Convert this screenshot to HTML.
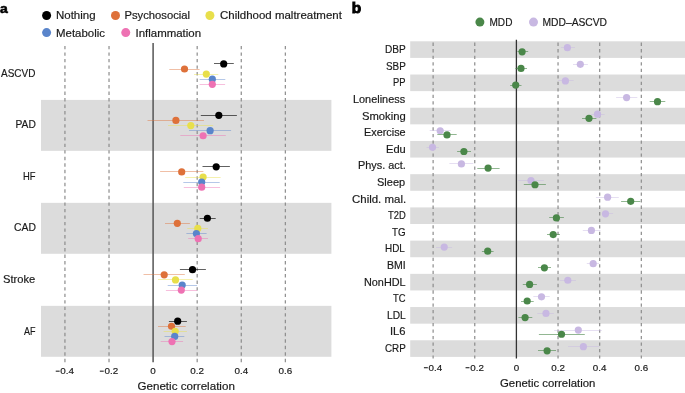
<!DOCTYPE html>
<html><head><meta charset="utf-8"><style>
html,body{margin:0;padding:0;background:#fff;width:685px;height:393px;overflow:hidden}
svg{display:block;will-change:transform}
text{font-family:"Liberation Sans", sans-serif}
</style></head><body>
<svg width="685" height="393" viewBox="0 0 685 393">
<rect width="685" height="393" fill="#fff"/>
<rect x="41.0" y="99.9" width="290.40" height="50.95" fill="#dcdcdc"/>
<rect x="41.0" y="202.85" width="290.40" height="50.95" fill="#dcdcdc"/>
<rect x="41.0" y="305.85" width="290.40" height="50.95" fill="#dcdcdc"/>
<line x1="64.94" y1="42.9" x2="64.94" y2="362.3" stroke="#8c8c8c" stroke-width="1.2" stroke-dasharray="3.4 3.12" stroke-dashoffset="-3.00"/>
<line x1="109.02" y1="42.9" x2="109.02" y2="362.3" stroke="#8c8c8c" stroke-width="1.2" stroke-dasharray="3.4 3.12" stroke-dashoffset="-3.00"/>
<line x1="197.18" y1="42.9" x2="197.18" y2="362.3" stroke="#8c8c8c" stroke-width="1.2" stroke-dasharray="3.4 3.12" stroke-dashoffset="-3.00"/>
<line x1="241.26" y1="42.9" x2="241.26" y2="362.3" stroke="#8c8c8c" stroke-width="1.2" stroke-dasharray="3.4 3.12" stroke-dashoffset="-3.00"/>
<line x1="285.34" y1="42.9" x2="285.34" y2="362.3" stroke="#8c8c8c" stroke-width="1.2" stroke-dasharray="3.4 3.12" stroke-dashoffset="-3.00"/>
<line x1="153.1" y1="42.9" x2="153.1" y2="362.3" stroke="#555" stroke-width="1.5"/>
<line x1="214" y1="63.50" x2="233.8" y2="63.50" stroke="#000000" stroke-opacity="0.62" stroke-width="1"/>
<circle cx="223.7" cy="63.90" r="3.6" fill="#000000"/>
<line x1="169.3" y1="69.50" x2="199.6" y2="69.50" stroke="#de713a" stroke-opacity="0.45" stroke-width="1"/>
<circle cx="184.5" cy="69.00" r="3.6" fill="#de713a"/>
<line x1="194" y1="74.50" x2="218.3" y2="74.50" stroke="#e8df4b" stroke-opacity="0.45" stroke-width="1"/>
<circle cx="206.3" cy="74.10" r="3.6" fill="#e8df4b"/>
<line x1="199.6" y1="79.50" x2="225.3" y2="79.50" stroke="#5a85cb" stroke-opacity="0.45" stroke-width="1"/>
<circle cx="212.3" cy="79.20" r="3.6" fill="#5a85cb"/>
<line x1="199.6" y1="84.50" x2="225.1" y2="84.50" stroke="#ee72b3" stroke-opacity="0.45" stroke-width="1"/>
<circle cx="212.3" cy="84.30" r="3.6" fill="#ee72b3"/>
<line x1="200.8" y1="115.50" x2="236.9" y2="115.50" stroke="#000000" stroke-opacity="0.62" stroke-width="1"/>
<circle cx="218.8" cy="115.35" r="3.6" fill="#000000"/>
<line x1="147.5" y1="120.50" x2="204" y2="120.50" stroke="#de713a" stroke-opacity="0.45" stroke-width="1"/>
<circle cx="175.9" cy="120.45" r="3.6" fill="#de713a"/>
<line x1="168" y1="125.50" x2="213.2" y2="125.50" stroke="#e8df4b" stroke-opacity="0.45" stroke-width="1"/>
<circle cx="190.8" cy="125.55" r="3.6" fill="#e8df4b"/>
<line x1="189" y1="130.50" x2="231.1" y2="130.50" stroke="#5a85cb" stroke-opacity="0.45" stroke-width="1"/>
<circle cx="210.1" cy="130.65" r="3.6" fill="#5a85cb"/>
<line x1="180.3" y1="135.50" x2="225.8" y2="135.50" stroke="#ee72b3" stroke-opacity="0.45" stroke-width="1"/>
<circle cx="203.1" cy="135.75" r="3.6" fill="#ee72b3"/>
<line x1="202.5" y1="166.50" x2="229.9" y2="166.50" stroke="#000000" stroke-opacity="0.62" stroke-width="1"/>
<circle cx="216.2" cy="166.80" r="3.6" fill="#000000"/>
<line x1="160.1" y1="171.50" x2="203.4" y2="171.50" stroke="#de713a" stroke-opacity="0.45" stroke-width="1"/>
<circle cx="181.7" cy="171.90" r="3.6" fill="#de713a"/>
<line x1="185.2" y1="177.50" x2="220.6" y2="177.50" stroke="#e8df4b" stroke-opacity="0.45" stroke-width="1"/>
<circle cx="203.1" cy="177.00" r="3.6" fill="#e8df4b"/>
<line x1="183.3" y1="182.50" x2="219.7" y2="182.50" stroke="#5a85cb" stroke-opacity="0.45" stroke-width="1"/>
<circle cx="201.7" cy="182.10" r="3.6" fill="#5a85cb"/>
<line x1="183.8" y1="187.50" x2="220.1" y2="187.50" stroke="#ee72b3" stroke-opacity="0.45" stroke-width="1"/>
<circle cx="201.7" cy="187.20" r="3.6" fill="#ee72b3"/>
<line x1="199.6" y1="218.50" x2="215.7" y2="218.50" stroke="#000000" stroke-opacity="0.62" stroke-width="1"/>
<circle cx="207.4" cy="218.25" r="3.6" fill="#000000"/>
<line x1="165" y1="223.50" x2="189.9" y2="223.50" stroke="#de713a" stroke-opacity="0.45" stroke-width="1"/>
<circle cx="177.3" cy="223.35" r="3.6" fill="#de713a"/>
<line x1="187.3" y1="228.50" x2="208" y2="228.50" stroke="#e8df4b" stroke-opacity="0.45" stroke-width="1"/>
<circle cx="197.8" cy="228.45" r="3.6" fill="#e8df4b"/>
<line x1="186.4" y1="233.50" x2="206.6" y2="233.50" stroke="#5a85cb" stroke-opacity="0.45" stroke-width="1"/>
<circle cx="196.4" cy="233.55" r="3.6" fill="#5a85cb"/>
<line x1="188.2" y1="238.50" x2="208" y2="238.50" stroke="#ee72b3" stroke-opacity="0.45" stroke-width="1"/>
<circle cx="198.2" cy="238.65" r="3.6" fill="#ee72b3"/>
<line x1="179.9" y1="269.50" x2="205.9" y2="269.50" stroke="#000000" stroke-opacity="0.62" stroke-width="1"/>
<circle cx="192.5" cy="269.70" r="3.6" fill="#000000"/>
<line x1="143.5" y1="274.50" x2="184.8" y2="274.50" stroke="#de713a" stroke-opacity="0.45" stroke-width="1"/>
<circle cx="164.2" cy="274.80" r="3.6" fill="#de713a"/>
<line x1="158" y1="279.50" x2="192.7" y2="279.50" stroke="#e8df4b" stroke-opacity="0.45" stroke-width="1"/>
<circle cx="175.5" cy="279.90" r="3.6" fill="#e8df4b"/>
<line x1="167.7" y1="285.50" x2="197.1" y2="285.50" stroke="#5a85cb" stroke-opacity="0.45" stroke-width="1"/>
<circle cx="182.2" cy="285.00" r="3.6" fill="#5a85cb"/>
<line x1="165.9" y1="290.50" x2="197.1" y2="290.50" stroke="#ee72b3" stroke-opacity="0.45" stroke-width="1"/>
<circle cx="181.3" cy="290.10" r="3.6" fill="#ee72b3"/>
<line x1="168.9" y1="321.50" x2="186.9" y2="321.50" stroke="#000000" stroke-opacity="0.62" stroke-width="1"/>
<circle cx="177.7" cy="321.15" r="3.6" fill="#000000"/>
<line x1="158" y1="326.50" x2="185.7" y2="326.50" stroke="#de713a" stroke-opacity="0.45" stroke-width="1"/>
<circle cx="171.5" cy="326.25" r="3.6" fill="#de713a"/>
<line x1="163.6" y1="331.50" x2="186.9" y2="331.50" stroke="#e8df4b" stroke-opacity="0.45" stroke-width="1"/>
<circle cx="175.2" cy="331.35" r="3.6" fill="#e8df4b"/>
<line x1="164.5" y1="336.50" x2="184.3" y2="336.50" stroke="#5a85cb" stroke-opacity="0.45" stroke-width="1"/>
<circle cx="174.7" cy="336.45" r="3.6" fill="#5a85cb"/>
<line x1="160.7" y1="341.50" x2="183.1" y2="341.50" stroke="#ee72b3" stroke-opacity="0.45" stroke-width="1"/>
<circle cx="172" cy="341.55" r="3.6" fill="#ee72b3"/>
<rect x="55.74" y="370.65" width="3.9" height="1.05" fill="#1a1a1a"/>
<text x="67.24" y="373.8" font-size="9.9" text-anchor="middle" font-weight="normal" fill="#1a1a1a" stroke="#1a1a1a" stroke-width="0.18">0.4</text>
<rect x="99.82" y="370.65" width="3.9" height="1.05" fill="#1a1a1a"/>
<text x="111.32" y="373.8" font-size="9.9" text-anchor="middle" font-weight="normal" fill="#1a1a1a" stroke="#1a1a1a" stroke-width="0.18">0.2</text>
<text x="153.10" y="373.8" font-size="9.9" text-anchor="middle" font-weight="normal" fill="#1a1a1a" stroke="#1a1a1a" stroke-width="0.18">0</text>
<text x="197.18" y="373.8" font-size="9.9" text-anchor="middle" font-weight="normal" fill="#1a1a1a" stroke="#1a1a1a" stroke-width="0.18">0.2</text>
<text x="241.26" y="373.8" font-size="9.9" text-anchor="middle" font-weight="normal" fill="#1a1a1a" stroke="#1a1a1a" stroke-width="0.18">0.4</text>
<text x="285.34" y="373.8" font-size="9.9" text-anchor="middle" font-weight="normal" fill="#1a1a1a" stroke="#1a1a1a" stroke-width="0.18">0.6</text>
<text transform="translate(0.0,12.6) scale(1.0,0.86)" x="0" y="0" font-size="14" font-weight="bold" fill="#000" stroke="#000" stroke-width="0.6">a</text>
<circle cx="46.6" cy="15.5" r="4.5" fill="#000000"/>
<circle cx="115.5" cy="15.5" r="4.5" fill="#de713a"/>
<circle cx="209.9" cy="15.5" r="4.5" fill="#e8df4b"/>
<circle cx="46.6" cy="32.6" r="4.5" fill="#5a85cb"/>
<circle cx="125.75" cy="32.6" r="4.5" fill="#ee72b3"/>
<rect x="410.2" y="41.30" width="274.80" height="16.61" fill="#dcdcdc"/>
<rect x="410.2" y="74.52" width="274.80" height="16.61" fill="#dcdcdc"/>
<rect x="410.2" y="107.74" width="274.80" height="16.61" fill="#dcdcdc"/>
<rect x="410.2" y="140.96" width="274.80" height="16.61" fill="#dcdcdc"/>
<rect x="410.2" y="174.18" width="274.80" height="16.61" fill="#dcdcdc"/>
<rect x="410.2" y="207.40" width="274.80" height="16.61" fill="#dcdcdc"/>
<rect x="410.2" y="240.62" width="274.80" height="16.61" fill="#dcdcdc"/>
<rect x="410.2" y="273.84" width="274.80" height="16.61" fill="#dcdcdc"/>
<rect x="410.2" y="307.06" width="274.80" height="16.61" fill="#dcdcdc"/>
<rect x="410.2" y="340.28" width="274.80" height="16.61" fill="#dcdcdc"/>
<line x1="433.12" y1="39.7" x2="433.12" y2="358.4" stroke="#8c8c8c" stroke-width="1.2" stroke-dasharray="3.3 3.22" stroke-dashoffset="-2.90"/>
<line x1="474.76" y1="39.7" x2="474.76" y2="358.4" stroke="#8c8c8c" stroke-width="1.2" stroke-dasharray="3.3 3.22" stroke-dashoffset="-2.90"/>
<line x1="558.04" y1="39.7" x2="558.04" y2="358.4" stroke="#8c8c8c" stroke-width="1.2" stroke-dasharray="3.3 3.22" stroke-dashoffset="-2.90"/>
<line x1="599.68" y1="39.7" x2="599.68" y2="358.4" stroke="#8c8c8c" stroke-width="1.2" stroke-dasharray="3.3 3.22" stroke-dashoffset="-2.90"/>
<line x1="641.32" y1="39.7" x2="641.32" y2="358.4" stroke="#8c8c8c" stroke-width="1.2" stroke-dasharray="3.3 3.22" stroke-dashoffset="-2.90"/>
<line x1="516.4" y1="39.7" x2="516.4" y2="358.4" stroke="#333" stroke-width="1.3"/>
<line x1="560.9" y1="47.50" x2="575" y2="47.50" stroke="#c8b8e2" stroke-opacity="0.45" stroke-width="1"/>
<circle cx="567.4" cy="47.70" r="3.6" fill="#c8b8e2"/>
<line x1="517.4" y1="51.50" x2="528.2" y2="51.50" stroke="#4a8749" stroke-opacity="0.6" stroke-width="1"/>
<circle cx="522.1" cy="51.85" r="3.6" fill="#4a8749"/>
<line x1="573" y1="64.50" x2="587.9" y2="64.50" stroke="#c8b8e2" stroke-opacity="0.45" stroke-width="1"/>
<circle cx="580.3" cy="64.31" r="3.6" fill="#c8b8e2"/>
<line x1="515.3" y1="68.50" x2="527" y2="68.50" stroke="#4a8749" stroke-opacity="0.6" stroke-width="1"/>
<circle cx="521" cy="68.47" r="3.6" fill="#4a8749"/>
<line x1="558.2" y1="80.50" x2="573.6" y2="80.50" stroke="#c8b8e2" stroke-opacity="0.45" stroke-width="1"/>
<circle cx="565.4" cy="80.92" r="3.6" fill="#c8b8e2"/>
<line x1="510.2" y1="85.50" x2="521.5" y2="85.50" stroke="#4a8749" stroke-opacity="0.6" stroke-width="1"/>
<circle cx="515.7" cy="85.07" r="3.6" fill="#4a8749"/>
<line x1="616.1" y1="97.50" x2="637.3" y2="97.50" stroke="#c8b8e2" stroke-opacity="0.45" stroke-width="1"/>
<circle cx="626.6" cy="97.53" r="3.6" fill="#c8b8e2"/>
<line x1="649.7" y1="101.50" x2="665.3" y2="101.50" stroke="#4a8749" stroke-opacity="0.6" stroke-width="1"/>
<circle cx="657.5" cy="101.69" r="3.6" fill="#4a8749"/>
<line x1="591" y1="114.50" x2="604.6" y2="114.50" stroke="#c8b8e2" stroke-opacity="0.45" stroke-width="1"/>
<circle cx="597.5" cy="114.14" r="3.6" fill="#c8b8e2"/>
<line x1="582" y1="118.50" x2="596.4" y2="118.50" stroke="#4a8749" stroke-opacity="0.6" stroke-width="1"/>
<circle cx="589" cy="118.30" r="3.6" fill="#4a8749"/>
<line x1="429.7" y1="130.50" x2="450.8" y2="130.50" stroke="#c8b8e2" stroke-opacity="0.45" stroke-width="1"/>
<circle cx="440.2" cy="130.75" r="3.6" fill="#c8b8e2"/>
<line x1="437.3" y1="134.50" x2="456.7" y2="134.50" stroke="#4a8749" stroke-opacity="0.6" stroke-width="1"/>
<circle cx="447" cy="134.90" r="3.6" fill="#4a8749"/>
<line x1="426.5" y1="147.50" x2="438.9" y2="147.50" stroke="#c8b8e2" stroke-opacity="0.45" stroke-width="1"/>
<circle cx="432.5" cy="147.36" r="3.6" fill="#c8b8e2"/>
<line x1="457.1" y1="151.50" x2="471" y2="151.50" stroke="#4a8749" stroke-opacity="0.6" stroke-width="1"/>
<circle cx="463.9" cy="151.51" r="3.6" fill="#4a8749"/>
<line x1="449.4" y1="163.50" x2="473.3" y2="163.50" stroke="#c8b8e2" stroke-opacity="0.45" stroke-width="1"/>
<circle cx="461.4" cy="163.97" r="3.6" fill="#c8b8e2"/>
<line x1="477.3" y1="168.50" x2="499.6" y2="168.50" stroke="#4a8749" stroke-opacity="0.6" stroke-width="1"/>
<circle cx="488.1" cy="168.12" r="3.6" fill="#4a8749"/>
<line x1="518.3" y1="180.50" x2="543.8" y2="180.50" stroke="#c8b8e2" stroke-opacity="0.45" stroke-width="1"/>
<circle cx="531" cy="180.59" r="3.6" fill="#c8b8e2"/>
<line x1="523.8" y1="184.50" x2="545.9" y2="184.50" stroke="#4a8749" stroke-opacity="0.6" stroke-width="1"/>
<circle cx="535" cy="184.74" r="3.6" fill="#4a8749"/>
<line x1="595.9" y1="197.50" x2="618.8" y2="197.50" stroke="#c8b8e2" stroke-opacity="0.45" stroke-width="1"/>
<circle cx="607.6" cy="197.19" r="3.6" fill="#c8b8e2"/>
<line x1="621.1" y1="201.50" x2="640.3" y2="201.50" stroke="#4a8749" stroke-opacity="0.6" stroke-width="1"/>
<circle cx="630.7" cy="201.34" r="3.6" fill="#4a8749"/>
<line x1="601.8" y1="213.50" x2="613.1" y2="213.50" stroke="#c8b8e2" stroke-opacity="0.45" stroke-width="1"/>
<circle cx="605.5" cy="213.80" r="3.6" fill="#c8b8e2"/>
<line x1="549.2" y1="217.50" x2="563.9" y2="217.50" stroke="#4a8749" stroke-opacity="0.6" stroke-width="1"/>
<circle cx="556.4" cy="217.95" r="3.6" fill="#4a8749"/>
<line x1="582.8" y1="230.50" x2="600.5" y2="230.50" stroke="#c8b8e2" stroke-opacity="0.45" stroke-width="1"/>
<circle cx="591.4" cy="230.41" r="3.6" fill="#c8b8e2"/>
<line x1="547" y1="234.50" x2="560" y2="234.50" stroke="#4a8749" stroke-opacity="0.6" stroke-width="1"/>
<circle cx="553.2" cy="234.56" r="3.6" fill="#4a8749"/>
<line x1="436" y1="247.50" x2="452.1" y2="247.50" stroke="#c8b8e2" stroke-opacity="0.45" stroke-width="1"/>
<circle cx="444.2" cy="247.03" r="3.6" fill="#c8b8e2"/>
<line x1="481.9" y1="251.50" x2="493.6" y2="251.50" stroke="#4a8749" stroke-opacity="0.6" stroke-width="1"/>
<circle cx="487.7" cy="251.18" r="3.6" fill="#4a8749"/>
<line x1="586.8" y1="263.50" x2="599" y2="263.50" stroke="#c8b8e2" stroke-opacity="0.45" stroke-width="1"/>
<circle cx="593.2" cy="263.63" r="3.6" fill="#c8b8e2"/>
<line x1="538" y1="267.50" x2="551" y2="267.50" stroke="#4a8749" stroke-opacity="0.6" stroke-width="1"/>
<circle cx="544.4" cy="267.78" r="3.6" fill="#4a8749"/>
<line x1="559.8" y1="280.50" x2="576" y2="280.50" stroke="#c8b8e2" stroke-opacity="0.45" stroke-width="1"/>
<circle cx="567.8" cy="280.25" r="3.6" fill="#c8b8e2"/>
<line x1="522.8" y1="284.50" x2="536.9" y2="284.50" stroke="#4a8749" stroke-opacity="0.6" stroke-width="1"/>
<circle cx="529.6" cy="284.39" r="3.6" fill="#4a8749"/>
<line x1="533.3" y1="296.50" x2="549.7" y2="296.50" stroke="#c8b8e2" stroke-opacity="0.45" stroke-width="1"/>
<circle cx="541.5" cy="296.86" r="3.6" fill="#c8b8e2"/>
<line x1="521" y1="301.50" x2="533.7" y2="301.50" stroke="#4a8749" stroke-opacity="0.6" stroke-width="1"/>
<circle cx="527.2" cy="301.00" r="3.6" fill="#4a8749"/>
<line x1="537.4" y1="313.50" x2="553.8" y2="313.50" stroke="#c8b8e2" stroke-opacity="0.45" stroke-width="1"/>
<circle cx="546" cy="313.47" r="3.6" fill="#c8b8e2"/>
<line x1="518.4" y1="317.50" x2="532.3" y2="317.50" stroke="#4a8749" stroke-opacity="0.6" stroke-width="1"/>
<circle cx="525.1" cy="317.62" r="3.6" fill="#4a8749"/>
<line x1="554.2" y1="330.50" x2="601.8" y2="330.50" stroke="#c8b8e2" stroke-opacity="0.45" stroke-width="1"/>
<circle cx="578.3" cy="330.08" r="3.6" fill="#c8b8e2"/>
<line x1="538.9" y1="334.50" x2="584.8" y2="334.50" stroke="#4a8749" stroke-opacity="0.6" stroke-width="1"/>
<circle cx="561.5" cy="334.23" r="3.6" fill="#4a8749"/>
<line x1="568.1" y1="346.50" x2="599.2" y2="346.50" stroke="#c8b8e2" stroke-opacity="0.45" stroke-width="1"/>
<circle cx="583.4" cy="346.69" r="3.6" fill="#c8b8e2"/>
<line x1="538" y1="350.50" x2="556" y2="350.50" stroke="#4a8749" stroke-opacity="0.6" stroke-width="1"/>
<circle cx="547.1" cy="350.83" r="3.6" fill="#4a8749"/>
<rect x="423.92" y="367.20" width="3.9" height="1.05" fill="#1a1a1a"/>
<text x="435.42" y="370.5" font-size="9.8" text-anchor="middle" font-weight="normal" fill="#1a1a1a" stroke="#1a1a1a" stroke-width="0.18">0.4</text>
<rect x="465.56" y="367.20" width="3.9" height="1.05" fill="#1a1a1a"/>
<text x="477.06" y="370.5" font-size="9.8" text-anchor="middle" font-weight="normal" fill="#1a1a1a" stroke="#1a1a1a" stroke-width="0.18">0.2</text>
<text x="516.40" y="370.5" font-size="9.8" text-anchor="middle" font-weight="normal" fill="#1a1a1a" stroke="#1a1a1a" stroke-width="0.18">0</text>
<text x="558.04" y="370.5" font-size="9.8" text-anchor="middle" font-weight="normal" fill="#1a1a1a" stroke="#1a1a1a" stroke-width="0.18">0.2</text>
<text x="599.68" y="370.5" font-size="9.8" text-anchor="middle" font-weight="normal" fill="#1a1a1a" stroke="#1a1a1a" stroke-width="0.18">0.4</text>
<text x="641.32" y="370.5" font-size="9.8" text-anchor="middle" font-weight="normal" fill="#1a1a1a" stroke="#1a1a1a" stroke-width="0.18">0.6</text>
<text transform="translate(351.8,12.5) scale(1.06,0.95)" x="0" y="0" font-size="14.5" font-weight="bold" fill="#000" stroke="#000" stroke-width="0.9">b</text>
<circle cx="479.9" cy="22.1" r="4.5" fill="#4a8749"/>
<circle cx="533.5" cy="22.1" r="4.5" fill="#c8b8e2"/>
<text x="56.00" y="19.1" font-size="10.4" text-anchor="start" font-weight="normal" fill="#1a1a1a" stroke="#1a1a1a" stroke-width="0.18" textLength="39.56" lengthAdjust="spacingAndGlyphs">Nothing</text>
<text x="124.50" y="19.1" font-size="10.4" text-anchor="start" font-weight="normal" fill="#1a1a1a" stroke="#1a1a1a" stroke-width="0.18" textLength="65.57" lengthAdjust="spacingAndGlyphs">Psychosocial</text>
<text x="220.00" y="19.1" font-size="10.4" text-anchor="start" font-weight="normal" fill="#1a1a1a" stroke="#1a1a1a" stroke-width="0.18" textLength="121.89" lengthAdjust="spacingAndGlyphs">Childhood maltreatment</text>
<text x="56.00" y="36.9" font-size="10.4" text-anchor="start" font-weight="normal" fill="#1a1a1a" stroke="#1a1a1a" stroke-width="0.18" textLength="48.94" lengthAdjust="spacingAndGlyphs">Metabolic</text>
<text x="135.50" y="36.9" font-size="10.4" text-anchor="start" font-weight="normal" fill="#1a1a1a" stroke="#1a1a1a" stroke-width="0.18" textLength="65.59" lengthAdjust="spacingAndGlyphs">Inflammation</text>
<text x="1.00" y="76.7" font-size="10.9" text-anchor="start" font-weight="normal" fill="#1a1a1a" stroke="#1a1a1a" stroke-width="0.18" textLength="34.38" lengthAdjust="spacingAndGlyphs">ASCVD</text>
<text x="15.50" y="128.26" font-size="10.9" text-anchor="start" font-weight="normal" fill="#1a1a1a" stroke="#1a1a1a" stroke-width="0.18" textLength="20.29" lengthAdjust="spacingAndGlyphs">PAD</text>
<text x="23.00" y="179.82" font-size="10.9" text-anchor="start" font-weight="normal" fill="#1a1a1a" stroke="#1a1a1a" stroke-width="0.18" textLength="12.51" lengthAdjust="spacingAndGlyphs">HF</text>
<text x="14.00" y="231.38" font-size="10.9" text-anchor="start" font-weight="normal" fill="#1a1a1a" stroke="#1a1a1a" stroke-width="0.18" textLength="21.87" lengthAdjust="spacingAndGlyphs">CAD</text>
<text x="3.00" y="282.94" font-size="10.9" text-anchor="start" font-weight="normal" fill="#1a1a1a" stroke="#1a1a1a" stroke-width="0.18" textLength="32.28" lengthAdjust="spacingAndGlyphs">Stroke</text>
<text x="24.00" y="334.5" font-size="10.9" text-anchor="start" font-weight="normal" fill="#1a1a1a" stroke="#1a1a1a" stroke-width="0.18" textLength="11.49" lengthAdjust="spacingAndGlyphs">AF</text>
<text x="137.50" y="390.4" font-size="10.9" text-anchor="start" font-weight="normal" fill="#1a1a1a" stroke="#1a1a1a" stroke-width="0.18" textLength="97.34" lengthAdjust="spacingAndGlyphs">Genetic correlation</text>
<text x="500.00" y="386.8" font-size="10.9" text-anchor="start" font-weight="normal" fill="#1a1a1a" stroke="#1a1a1a" stroke-width="0.18" textLength="95.32" lengthAdjust="spacingAndGlyphs">Genetic correlation</text>
<text x="489.50" y="25.8" font-size="10.6" text-anchor="start" font-weight="normal" fill="#1a1a1a" stroke="#1a1a1a" stroke-width="0.18" textLength="22.90" lengthAdjust="spacingAndGlyphs">MDD</text>
<text x="542.50" y="25.8" font-size="10.6" text-anchor="start" font-weight="normal" fill="#1a1a1a" stroke="#1a1a1a" stroke-width="0.18" textLength="64.56" lengthAdjust="spacingAndGlyphs">MDD&#8211;ASCVD</text>
<text x="385.00" y="53.1" font-size="10.9" text-anchor="start" font-weight="normal" fill="#1a1a1a" stroke="#1a1a1a" stroke-width="0.18" textLength="20.79" lengthAdjust="spacingAndGlyphs">DBP</text>
<text x="386.00" y="69.72" font-size="10.9" text-anchor="start" font-weight="normal" fill="#1a1a1a" stroke="#1a1a1a" stroke-width="0.18" textLength="19.77" lengthAdjust="spacingAndGlyphs">SBP</text>
<text x="393.00" y="86.32" font-size="10.9" text-anchor="start" font-weight="normal" fill="#1a1a1a" stroke="#1a1a1a" stroke-width="0.18" textLength="12.49" lengthAdjust="spacingAndGlyphs">PP</text>
<text x="353.00" y="102.94" font-size="10.9" text-anchor="start" font-weight="normal" fill="#1a1a1a" stroke="#1a1a1a" stroke-width="0.18" textLength="52.10" lengthAdjust="spacingAndGlyphs">Loneliness</text>
<text x="362.00" y="119.55" font-size="10.9" text-anchor="start" font-weight="normal" fill="#1a1a1a" stroke="#1a1a1a" stroke-width="0.18" textLength="43.74" lengthAdjust="spacingAndGlyphs">Smoking</text>
<text x="364.00" y="136.15" font-size="10.9" text-anchor="start" font-weight="normal" fill="#1a1a1a" stroke="#1a1a1a" stroke-width="0.18" textLength="41.62" lengthAdjust="spacingAndGlyphs">Exercise</text>
<text x="386.00" y="152.76" font-size="10.9" text-anchor="start" font-weight="normal" fill="#1a1a1a" stroke="#1a1a1a" stroke-width="0.18" textLength="19.75" lengthAdjust="spacingAndGlyphs">Edu</text>
<text x="358.00" y="169.38" font-size="10.9" text-anchor="start" font-weight="normal" fill="#1a1a1a" stroke="#1a1a1a" stroke-width="0.18" textLength="47.88" lengthAdjust="spacingAndGlyphs">Phys. act.</text>
<text x="377.00" y="185.99" font-size="10.9" text-anchor="start" font-weight="normal" fill="#1a1a1a" stroke="#1a1a1a" stroke-width="0.18" textLength="28.12" lengthAdjust="spacingAndGlyphs">Sleep</text>
<text x="352.00" y="202.59" font-size="10.9" text-anchor="start" font-weight="normal" fill="#1a1a1a" stroke="#1a1a1a" stroke-width="0.18" textLength="54.14" lengthAdjust="spacingAndGlyphs">Child. mal.</text>
<text x="388.00" y="219.2" font-size="10.9" text-anchor="start" font-weight="normal" fill="#1a1a1a" stroke="#1a1a1a" stroke-width="0.18" textLength="17.73" lengthAdjust="spacingAndGlyphs">T2D</text>
<text x="392.00" y="235.81" font-size="10.9" text-anchor="start" font-weight="normal" fill="#1a1a1a" stroke="#1a1a1a" stroke-width="0.18" textLength="13.56" lengthAdjust="spacingAndGlyphs">TG</text>
<text x="385.00" y="252.43" font-size="10.9" text-anchor="start" font-weight="normal" fill="#1a1a1a" stroke="#1a1a1a" stroke-width="0.18" textLength="19.81" lengthAdjust="spacingAndGlyphs">HDL</text>
<text x="387.00" y="269.03" font-size="10.9" text-anchor="start" font-weight="normal" fill="#1a1a1a" stroke="#1a1a1a" stroke-width="0.18" textLength="18.73" lengthAdjust="spacingAndGlyphs">BMI</text>
<text x="364.00" y="285.64" font-size="10.9" text-anchor="start" font-weight="normal" fill="#1a1a1a" stroke="#1a1a1a" stroke-width="0.18" textLength="41.62" lengthAdjust="spacingAndGlyphs">NonHDL</text>
<text x="393.00" y="302.25" font-size="10.9" text-anchor="start" font-weight="normal" fill="#1a1a1a" stroke="#1a1a1a" stroke-width="0.18" textLength="12.53" lengthAdjust="spacingAndGlyphs">TC</text>
<text x="387.00" y="318.87" font-size="10.9" text-anchor="start" font-weight="normal" fill="#1a1a1a" stroke="#1a1a1a" stroke-width="0.18" textLength="18.73" lengthAdjust="spacingAndGlyphs">LDL</text>
<text x="390.00" y="335.48" font-size="10.9" text-anchor="start" font-weight="normal" fill="#1a1a1a" stroke="#1a1a1a" stroke-width="0.18" textLength="15.59" lengthAdjust="spacingAndGlyphs">IL6</text>
<text x="385.00" y="352.08" font-size="10.9" text-anchor="start" font-weight="normal" fill="#1a1a1a" stroke="#1a1a1a" stroke-width="0.18" textLength="20.81" lengthAdjust="spacingAndGlyphs">CRP</text>
</svg>
</body></html>
